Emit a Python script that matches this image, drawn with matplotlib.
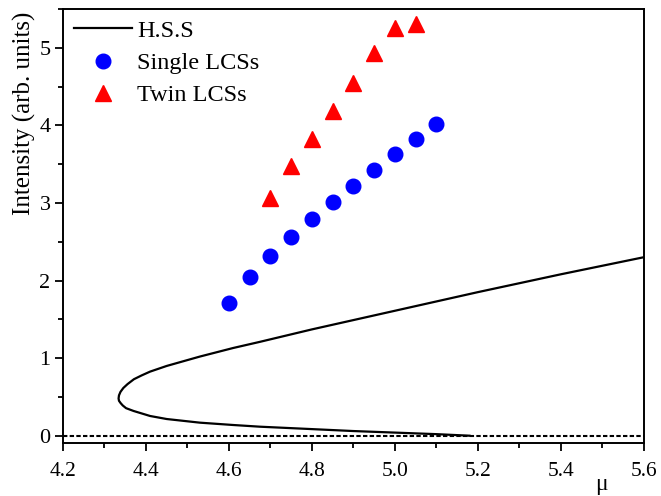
import numpy as np
import matplotlib
matplotlib.use("Agg")
import matplotlib.pyplot as plt
from matplotlib.ticker import MultipleLocator, FormatStrFormatter

plt.rcParams['font.family'] = ['Liberation Serif', 'DejaVu Serif']

# homogeneous steady state (lower branch -> fold -> upper branch)
mu_hss = [5.18, 5.10, 5.00, 4.90, 4.80, 4.675, 4.61, 4.53, 4.45, 4.41, 4.37,
          4.352, 4.344, 4.339, 4.335, 4.334, 4.335, 4.3386, 4.3455, 4.3556,
          4.371, 4.39, 4.41, 4.45, 4.53, 4.61, 4.675, 4.80, 4.90, 5.00, 5.10,
          5.20, 5.30, 5.40, 5.50, 5.60]
int_hss = [0.0, 0.02, 0.04, 0.06, 0.085, 0.116, 0.138, 0.168, 0.215, 0.254, 0.319,
           0.355, 0.39, 0.42, 0.45, 0.48, 0.52, 0.565, 0.615, 0.665,
           0.728, 0.778, 0.826, 0.899, 1.02, 1.13, 1.21, 1.37, 1.49, 1.61, 1.73,
           1.85, 1.965, 2.08, 2.19, 2.30]

mu_single = [4.60, 4.65, 4.70, 4.75, 4.80, 4.85, 4.90, 4.95, 5.00, 5.05, 5.10]
int_single = [1.71, 2.04, 2.31, 2.56, 2.79, 3.01, 3.22, 3.43, 3.63, 3.83, 4.02]

mu_twin = [4.70, 4.75, 4.80, 4.85, 4.90, 4.95, 5.00, 5.05]
int_twin = [3.07, 3.47, 3.83, 4.19, 4.55, 4.93, 5.26, 5.31]

fig = plt.figure(figsize=(6.61, 4.96), dpi=100)
ax = fig.add_axes([0.0953, 0.1075, 0.8785, 0.8744])

ax.axhline(0, color='black', lw=1.5, ls=(0, (2.1, 1.1)))
ax.plot(mu_hss, int_hss, color='black', lw=1.6, label='H.S.S',
        solid_joinstyle='round')
ax.plot(mu_single, int_single, 'o', color='blue', ms=10.5, mec='blue',
        label='Single LCSs')
ax.plot(mu_twin, int_twin, '^', color='red', ms=11.5, mec='red',
        label='Twin LCSs')

ax.set_xlim(4.2, 5.6)
ax.set_ylim(-0.09, 5.5)
ax.xaxis.set_major_locator(MultipleLocator(0.2))
ax.xaxis.set_minor_locator(MultipleLocator(0.1))
ax.yaxis.set_major_locator(MultipleLocator(1))
ax.yaxis.set_minor_locator(MultipleLocator(0.5))
ax.xaxis.set_major_formatter(FormatStrFormatter('%.1f'))

ax.tick_params(which='major', length=6, width=1.3, direction='out')
ax.tick_params(which='minor', length=3.5, width=1.3, direction='out')
ax.tick_params(axis='x', labelsize=15.5, pad=8)
ax.tick_params(axis='y', labelsize=16, pad=3)
for s in ax.spines.values():
    s.set_linewidth(1.4)

ax.text(0.928, -0.097, 'μ', transform=ax.transAxes, ha='center', va='center',
        fontsize=17)
ax.text(-0.066, 0.76, 'Intensity (arb. units)', transform=ax.transAxes,
        rotation=90, ha='center', va='center', fontsize=18)

ax.legend(loc='upper left', frameon=False, fontsize=17.5, handlelength=2.4,
          numpoints=1, labelspacing=0.42, handletextpad=0.2,
          borderaxespad=0.2, borderpad=0.25)

fig.savefig('out.png', dpi=100)
